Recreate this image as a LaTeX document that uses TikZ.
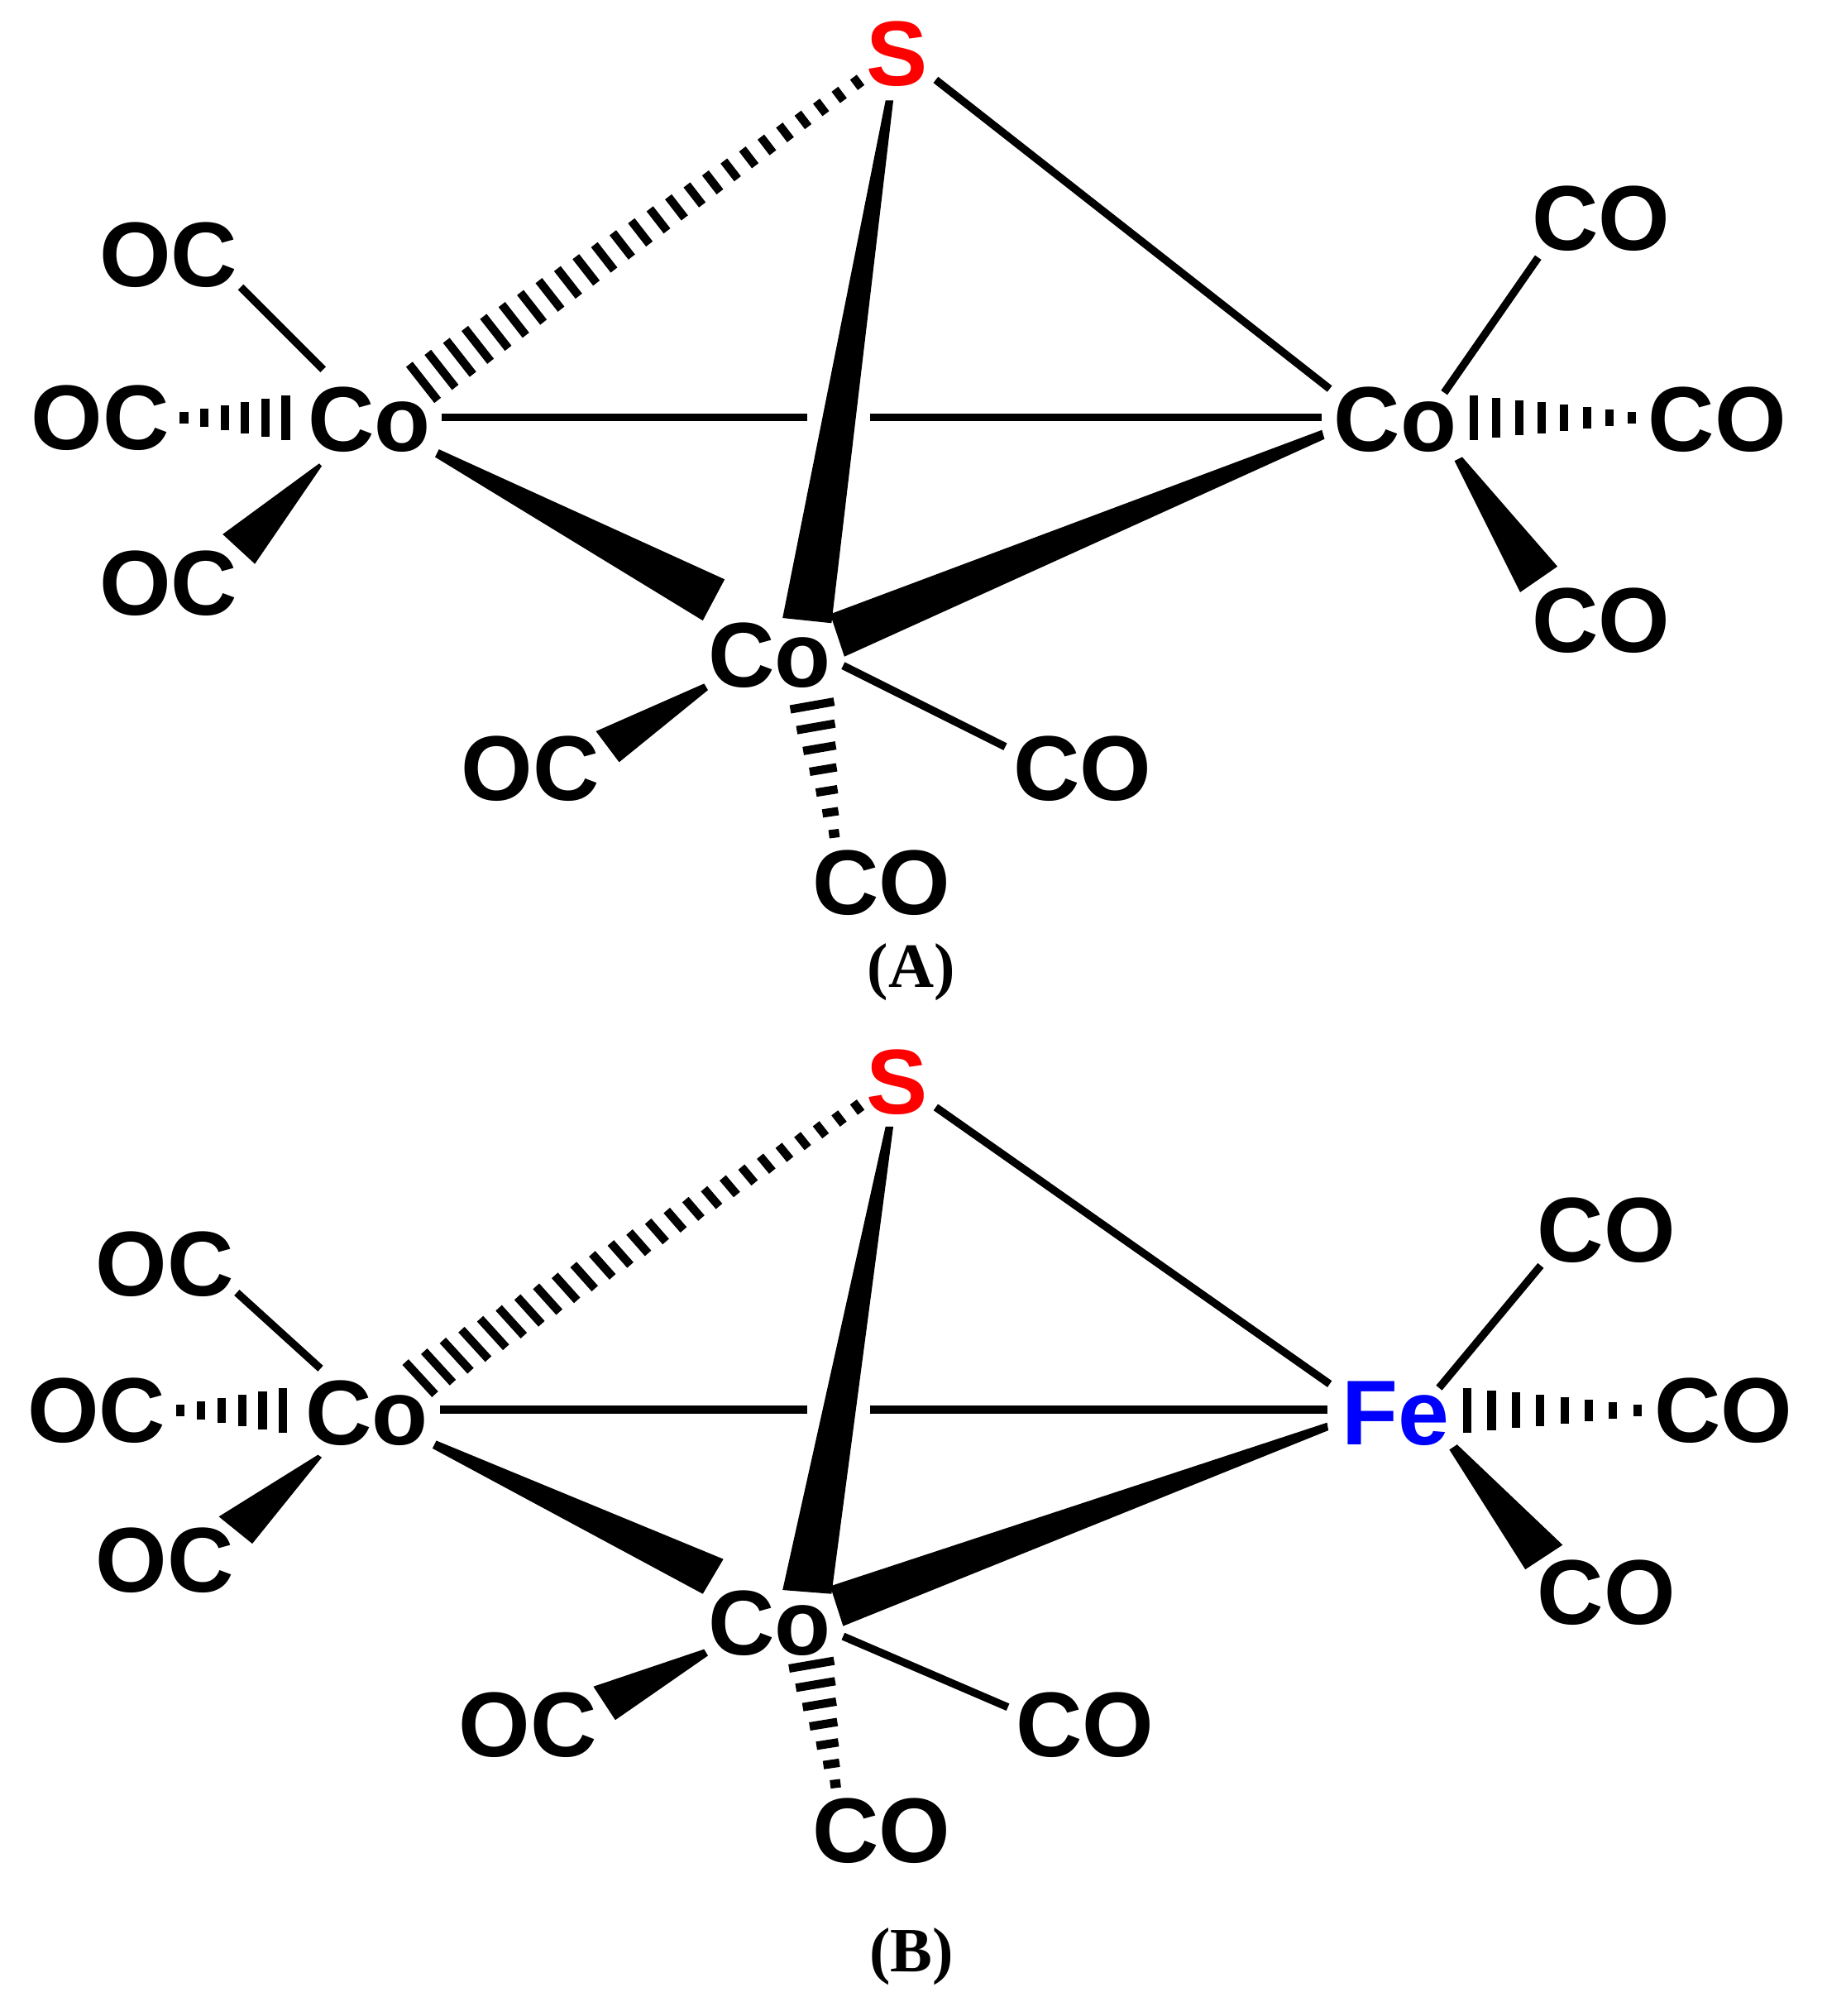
\documentclass[tikz,border=0pt]{standalone}
\usepackage{fontspec}
\setmainfont{Liberation Sans}
\newfontfamily\serifbold{Liberation Serif}
\usetikzlibrary{calc}
\tikzset{
  x=1pt,y=-1pt,
  atom/.style={inner sep=0pt,outer sep=0pt,anchor=center,text depth=3pt,font=\fontsize{71.5}{71.5}\selectfont\bfseries,text=black},
  sulfur/.style={atom,text=red},
  iron/.style={atom,text=blue},
  caption/.style={inner sep=0pt,anchor=center,font=\fontsize{49}{49}\selectfont\serifbold\bfseries},
  bond/.style={draw=black,line width=6pt},
  wedgefill/.style={fill=black,draw=none},
  hashbar/.style={draw=black,line width=6.5pt}
}
\newcommand{\wedgebond}[4]{\fill[wedgefill] ($#1$) -- ($#2$) -- ($#3$) -- ($#4$) -- cycle;}
\newcommand{\hashbond}[5]{%
  \path ($#1$) coordinate (ha) ($#2$) coordinate (hb) ($#3$) coordinate (hc) ($#4$) coordinate (hd);
  \foreach \k in {0,...,#5}{%
    \pgfmathsetmacro\hasht{\k/#5}
    \draw[hashbar] ($(ha)!\hasht!(hc)$) -- ($(hb)!\hasht!(hd)$);
  }}
\begin{document}
\begin{tikzpicture}
\useasboundingbox (0,0) rectangle (1419.3,1565.9);
\fill[white] (0,0) rectangle (1419.3,1565.9);
% ---------- A ----------
\node[sulfur] (s1) at (697,43) {S};
\node[atom] (oc1) at (131,199) {OC};
\node[atom] (oc2) at (78,326) {OC};
\node[atom] (oc3) at (131,454) {OC};
\node[atom] (co1) at (287,327) {Co};
\node[atom] (co2) at (1084,327) {Co};
\node[atom] (r1) at (1244,171) {CO};
\node[atom] (r2) at (1334,327) {CO};
\node[atom] (r3) at (1244,483) {CO};
\node[atom] (co3) at (598,510) {Co};
\node[atom] (oc4) at (412,598) {OC};
\node[atom] (r4) at (841,598) {CO};
\node[atom] (r5) at (685,687) {CO};
\node[caption] (capA) at (708,755) {(A)};
\draw[bond] ($(oc1)+(56,24)$) -- ($(co1)+(-36,-40)$);
\hashbond{(co1)+(-65,-20)}{(co1)+(-65,15)}{(oc2)+(65,-6)}{(oc2)+(65,3)}{5}
\wedgebond{(co1)+(-37,35)}{(co1)+(-39,33)}{(oc3)+(42,-39)}{(oc3)+(67,-16)}
\hashbond{(co1)+(31,-44)}{(co1)+(53,-16)}{(s1)+(-34,17)}{(s1)+(-28,25)}{24}
\draw[bond] ($(co1)+(56,-3)$) -- ($(co3)+(29,-186)$);
\draw[bond] ($(co3)+(78,-186)$) -- ($(co2)+(-57,-3)$);
\wedgebond{(co1)+(54,22)}{(co1)+(51,28)}{(co3)+(-52,-28)}{(co3)+(-35,-60)}
\wedgebond{(s1)+(-9,35)}{(s1)+(-3,35)}{(co3)+(48,-26)}{(co3)+(10,-30)}
\wedgebond{(co2)+(-57,7)}{(co2)+(-55,14)}{(co3)+(58,0)}{(co3)+(47,-33)}
\draw[bond] ($(s1)+(30,19)$) -- ($(co2)+(-51,-25)$);
\draw[bond] ($(co2)+(38,-22)$) -- ($(r1)+(-49,29)$);
\hashbond{(co2)+(61,-20)}{(co2)+(61,15)}{(r2)+(-66,-7)}{(r2)+(-66,2)}{7}
\wedgebond{(co2)+(46,31)}{(co2)+(52,28)}{(r3)+(-34,-43)}{(r3)+(-63,-23)}
\wedgebond{(co3)+(-51,21)}{(co3)+(-48,26)}{(oc4)+(69,-6)}{(oc4)+(51,-30)}
\draw[bond] ($(co3)+(57,7)$) -- ($(r4)+(-60,-18)$);
\hashbond{(co3)+(16,41)}{(co3)+(50,35)}{(r5)+(-41,-39)}{(r5)+(-33,-40)}{6}
% ---------- B ----------
\node[sulfur] (s2) at (697,842) {S};
\node[atom] (oc5) at (128,983) {OC};
\node[atom] (oc6) at (75,1097) {OC};
\node[atom] (oc7) at (128,1213) {OC};
\node[atom] (co4) at (285,1099) {Co};
\node[iron] (fe) at (1084,1099) {Fe};
\node[atom] (r6) at (1248,957) {CO};
\node[atom] (r7) at (1339,1097) {CO};
\node[atom] (r8) at (1248,1238) {CO};
\node[atom] (co5) at (598,1262) {Co};
\node[atom] (oc8) at (410,1341) {OC};
\node[atom] (r9) at (843,1341) {CO};
\node[atom] (r10) at (685,1423) {CO};
\node[caption] (capB) at (708,1520) {(B)};
\draw[bond] ($(oc5)+(56,21)$) -- ($(co4)+(-36,-36)$);
\hashbond{(co4)+(-65,-21)}{(co4)+(-65,14)}{(oc6)+(65,-6)}{(oc6)+(65,3)}{5}
\wedgebond{(co4)+(-38,31)}{(co4)+(-35,33)}{(oc7)+(68,-14)}{(oc7)+(42,-35)}
\hashbond{(co4)+(30,-41)}{(co4)+(53,-16)}{(s2)+(-34,14)}{(s2)+(-28,22)}{24}
\draw[bond] ($(co4)+(57,-4)$) -- ($(co5)+(29,-167)$);
\draw[bond] ($(co5)+(78,-167)$) -- ($(fe)+(-53,-4)$);
\wedgebond{(co4)+(54,20)}{(co4)+(51,26)}{(co5)+(-52,-24)}{(co5)+(-36,-51)}
\wedgebond{(s2)+(-9,33)}{(s2)+(-3,33)}{(co5)+(48,-24)}{(co5)+(10,-27)}
\wedgebond{(fe)+(-53,6)}{(fe)+(-52,12)}{(co5)+(57,1)}{(co5)+(47,-30)}
\draw[bond] ($(s2)+(30,18)$) -- ($(fe)+(-51,-24)$);
\draw[bond] ($(fe)+(34,-21)$) -- ($(r6)+(-51,26)$);
\hashbond{(fe)+(56,-21)}{(fe)+(56,14)}{(r7)+(-67,-6)}{(r7)+(-67,3)}{7}
\wedgebond{(fe)+(42,27)}{(fe)+(48,23)}{(r8)+(-34,-38)}{(r8)+(-63,-19)}
\wedgebond{(co5)+(-51,19)}{(co5)+(-48,24)}{(oc8)+(68,-5)}{(oc8)+(51,-31)}
\draw[bond] ($(co5)+(57,9)$) -- ($(r9)+(-60,-15)$);
\hashbond{(co5)+(15,34)}{(co5)+(50,28)}{(r10)+(-40,-37)}{(r10)+(-32,-38)}{6}
\end{tikzpicture}
\end{document}
